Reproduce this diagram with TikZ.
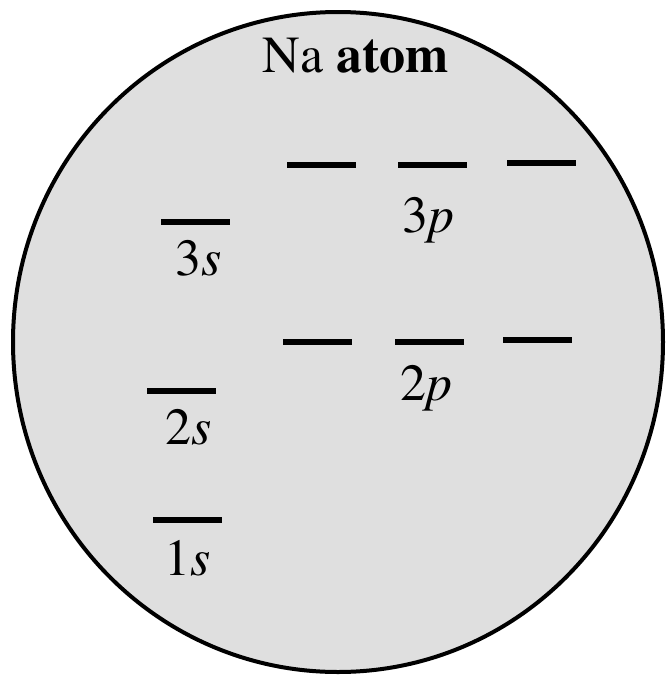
\documentclass[tikz,border=0pt]{standalone}
\usepackage[T1]{fontenc}
\usepackage{times}
\tikzset{
  level/.style={line width=3pt},
  lbl/.style={anchor=base, inner sep=0pt, font=\fontsize{26}{30}\selectfont}
}
\begin{document}
\begin{tikzpicture}[x=0.5pt, y=-0.5pt]

    % 0. Khung hình
    \useasboundingbox (0,0) rectangle (665,675);

    % 1. Nguyên tử
    \draw[line width=2pt, fill=gray!25] (338,342) ellipse (325 and 330);
    \node[lbl] (title) at (356,72) {Na \textbf{atom}};

    % 2. Các mức s
    \draw[level] (161,222) -- (230,222);
    \node[lbl] (l3s) at (199,275) {3\textit{s}};
    \draw[level] (147,391) -- (216,391);
    \node[lbl] (l2s) at (189,444) {2\textit{s}};
    \draw[level] (153,520) -- (222,520);
    \node[lbl] (l1s) at (188,575) {1\textit{s}};

    % 3. Các mức p
    \draw[level] (287,165) -- (356,165);
    \draw[level] (398,165) -- (467,165);
    \draw[level] (507,163) -- (576,163);
    \node[lbl] (l3p) at (428,232) {3\textit{p}};
    \draw[level] (283,342) -- (352,342);
    \draw[level] (395,342) -- (464,342);
    \draw[level] (503,340) -- (572,340);
    \node[lbl] (l2p) at (426,400) {2\textit{p}};

\end{tikzpicture}
\end{document}
